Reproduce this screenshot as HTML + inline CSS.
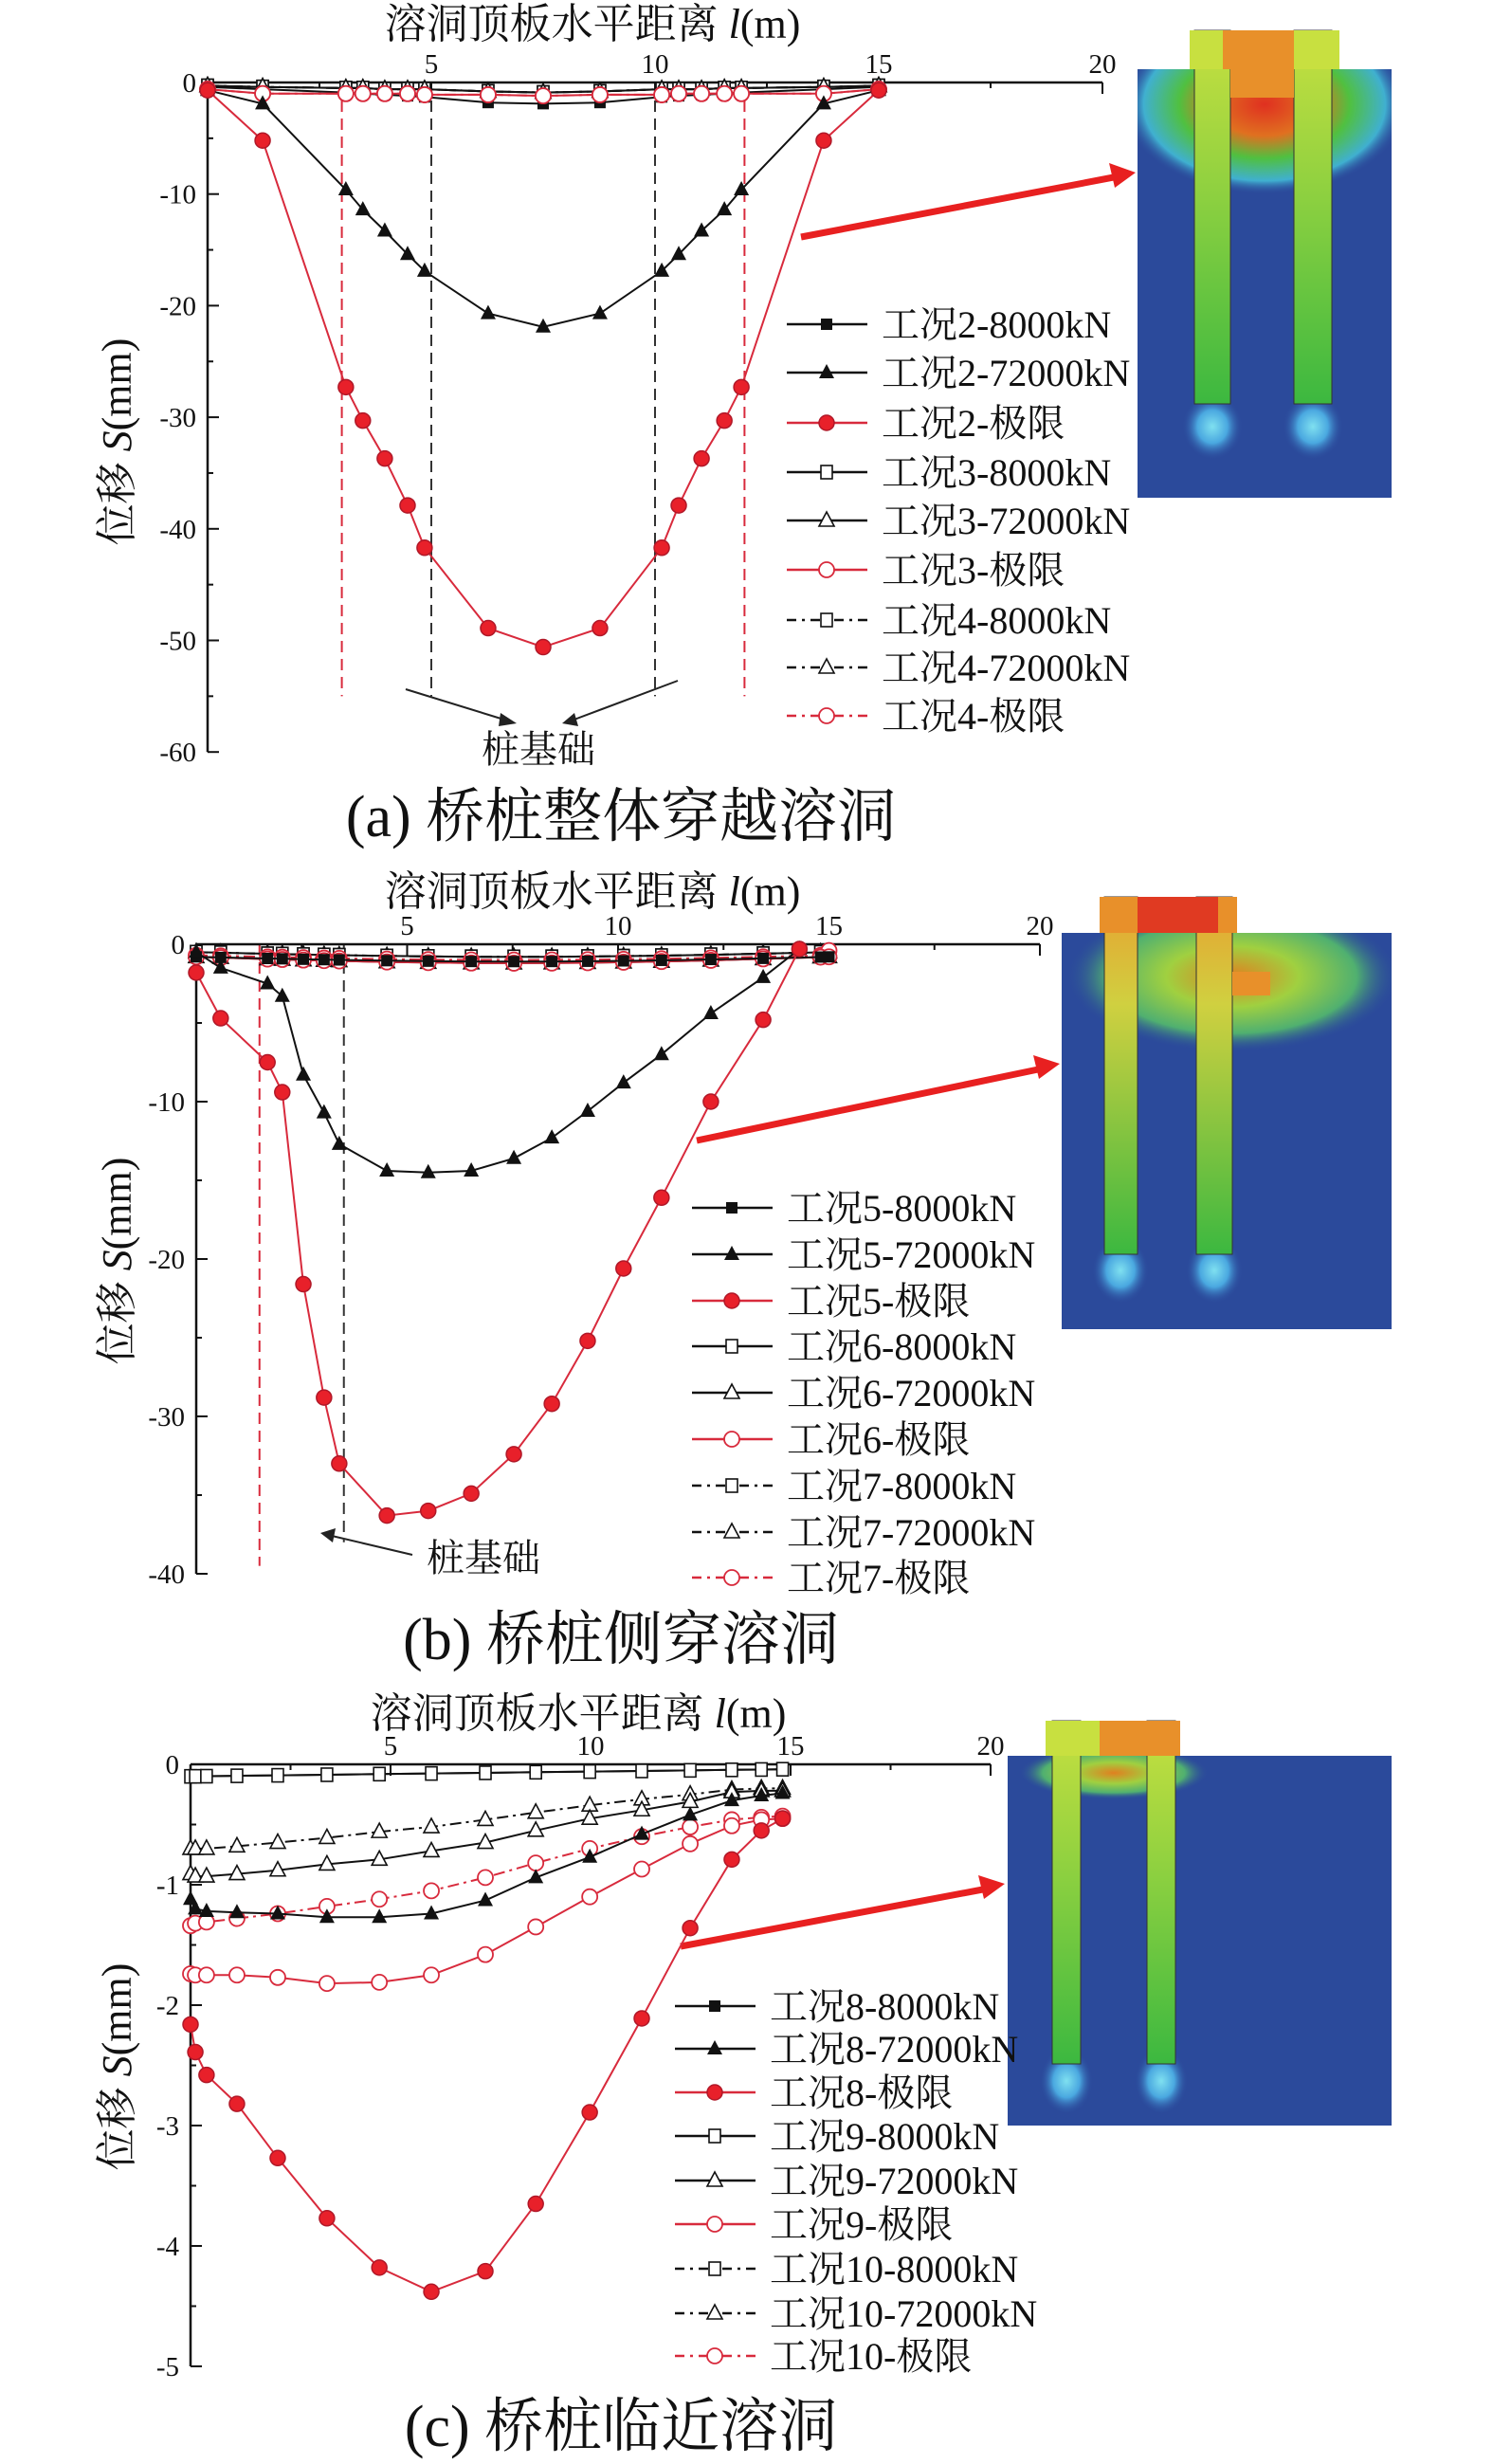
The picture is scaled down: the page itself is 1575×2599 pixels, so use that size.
<!DOCTYPE html>
<html><head><meta charset="utf-8">
<style>
html,body{margin:0;padding:0;background:#fff;}
svg{display:block;}
text{font-family:"Liberation Serif","Noto Serif CJK SC",serif;fill:#111;}
</style></head>
<body>
<svg id="s" width="1575" height="2599" viewBox="0 0 1575 2599" xmlns="http://www.w3.org/2000/svg">
<defs>
<radialGradient id="halo"><stop offset="0" stop-color="#7fe0f0"/><stop offset="0.5" stop-color="#4aa8e0"/><stop offset="1" stop-color="#2b4a9b" stop-opacity="0"/></radialGradient>
<radialGradient id="topg"><stop offset="0" stop-color="#e03020"/><stop offset="0.35" stop-color="#e07020"/><stop offset="0.6" stop-color="#50c040"/><stop offset="0.85" stop-color="#40b0d0"/><stop offset="1" stop-color="#2b4a9b" stop-opacity="0"/></radialGradient>
<radialGradient id="topg2"><stop offset="0" stop-color="#e08020"/><stop offset="0.4" stop-color="#a0d040"/><stop offset="0.75" stop-color="#50b070"/><stop offset="1" stop-color="#2b4a9b" stop-opacity="0"/></radialGradient>
<linearGradient id="pile" x1="0" y1="0" x2="0" y2="1"><stop offset="0" stop-color="#c8e040"/><stop offset="0.45" stop-color="#8cd040"/><stop offset="1" stop-color="#3cb840"/></linearGradient>
<linearGradient id="pileo" x1="0" y1="0" x2="0" y2="1"><stop offset="0" stop-color="#e8a030"/><stop offset="0.3" stop-color="#d0d040"/><stop offset="1" stop-color="#3cb840"/></linearGradient>
<clipPath id="ca"><rect x="1200" y="73" width="268" height="452"/></clipPath>
<clipPath id="cb"><rect x="1120" y="984" width="348" height="418"/></clipPath>
<clipPath id="cc"><rect x="1063" y="1852" width="405" height="390"/></clipPath>
</defs>

<!-- ===== Panel (a) heat image ===== -->
<rect x="1200" y="73" width="268" height="452" fill="#2b4a9b"/>
<g clip-path="url(#ca)">
<ellipse cx="1334" cy="110" rx="150" ry="95" fill="url(#topg)"/>
<ellipse cx="1279" cy="450" rx="32" ry="35" fill="url(#halo)"/>
<ellipse cx="1385" cy="450" rx="32" ry="35" fill="url(#halo)"/>
</g>
<rect x="1260" y="32" width="38" height="394" fill="url(#pile)" stroke="#333" stroke-width="1"/>
<rect x="1365" y="32" width="40" height="394" fill="url(#pile)" stroke="#333" stroke-width="1"/>
<rect x="1255" y="32" width="158" height="41" fill="#c8e040"/>
<rect x="1290" y="32" width="75" height="41" fill="#e8902a"/>
<rect x="1298" y="73" width="67" height="30" fill="#e8902a"/>

<!-- ===== Panel (b) heat image ===== -->
<rect x="1120" y="984" width="348" height="418" fill="#2b4a9b"/>
<g clip-path="url(#cb)">
<ellipse cx="1300" cy="1030" rx="175" ry="80" fill="url(#topg2)"/>
<ellipse cx="1182" cy="1340" rx="30" ry="35" fill="url(#halo)"/>
<ellipse cx="1281" cy="1340" rx="30" ry="35" fill="url(#halo)"/>
</g>
<rect x="1165" y="946" width="35" height="377" fill="url(#pileo)" stroke="#333" stroke-width="1"/>
<rect x="1262" y="946" width="38" height="377" fill="url(#pileo)" stroke="#333" stroke-width="1"/>
<rect x="1160" y="946" width="145" height="38" fill="#e8902a"/>
<rect x="1200" y="946" width="85" height="38" fill="#e03a22"/>
<rect x="1300" y="1025" width="40" height="25" fill="#e8902a"/>

<!-- ===== Panel (c) heat image ===== -->
<rect x="1063" y="1852" width="405" height="390" fill="#2b4a9b"/>
<g clip-path="url(#cc)">
<ellipse cx="1175" cy="1870" rx="100" ry="28" fill="url(#topg2)"/>
<ellipse cx="1125" cy="2195" rx="28" ry="35" fill="url(#halo)"/>
<ellipse cx="1225" cy="2195" rx="28" ry="35" fill="url(#halo)"/>
</g>
<rect x="1110" y="1815" width="30" height="362" fill="url(#pile)" stroke="#333" stroke-width="1"/>
<rect x="1210" y="1815" width="30" height="362" fill="url(#pile)" stroke="#333" stroke-width="1"/>
<rect x="1103" y="1815" width="142" height="37" fill="#c8e040"/>
<rect x="1160" y="1815" width="85" height="37" fill="#e8902a"/>

<!-- red arrows -->
<g stroke="#e82020" stroke-width="7" fill="#e82020">
<line x1="845" y1="250" x2="1180" y2="186"/>
<polygon points="1198,182 1170,172 1176,198" stroke="none"/>
<line x1="735" y1="1203" x2="1100" y2="1127"/>
<polygon points="1118,1122 1090,1113 1096,1138" stroke="none"/>
<line x1="718" y1="2053" x2="1042" y2="1992"/>
<polygon points="1060,1987 1032,1978 1038,2003" stroke="none"/>
</g>

<!-- titles and static text -->
<text x="625" y="40" font-size="44" text-anchor="middle">溶洞顶板水平距离 <tspan font-style="italic">l</tspan>(m)</text>
<text x="625" y="955" font-size="44" text-anchor="middle">溶洞顶板水平距离 <tspan font-style="italic">l</tspan>(m)</text>
<text x="610" y="1822" font-size="44" text-anchor="middle">溶洞顶板水平距离 <tspan font-style="italic">l</tspan>(m)</text>

<text transform="translate(138,466) rotate(-90)" font-size="44" text-anchor="middle">位移 <tspan font-style="italic">S</tspan>(mm)</text>
<text transform="translate(138,1330) rotate(-90)" font-size="44" text-anchor="middle">位移 <tspan font-style="italic">S</tspan>(mm)</text>
<text transform="translate(138,2180) rotate(-90)" font-size="44" text-anchor="middle">位移 <tspan font-style="italic">S</tspan>(mm)</text>

<text x="655" y="882" font-size="62" text-anchor="middle">(a) 桥桩整体穿越溶洞</text>
<text x="655" y="1750" font-size="62" text-anchor="middle">(b) 桥桩侧穿溶洞</text>
<text x="655" y="2580" font-size="62" text-anchor="middle">(c) 桥桩临近溶洞</text>

<text x="568" y="804" font-size="40" text-anchor="middle">桩基础</text>
<text x="510" y="1657" font-size="40" text-anchor="middle">桩基础</text>

<g stroke="#222" stroke-width="2" fill="#222">
<line x1="428" y1="727" x2="535" y2="760"/><polygon points="545,763 528,752 526,766" stroke="none"/>
<line x1="715" y1="718" x2="603" y2="760"/><polygon points="593,763 606,752 610,766" stroke="none"/>
<line x1="435" y1="1640" x2="350" y2="1620"/><polygon points="338,1617 354,1612 351,1627" stroke="none"/>
</g>

<g id="dyn"></g>
</svg>
<script>
(function(){
var NS="http://www.w3.org/2000/svg",g=document.getElementById('dyn');
function el(t,a,txt){var e=document.createElementNS(NS,t);for(var k in a)e.setAttribute(k,a[k]);if(txt!=null)e.textContent=txt;g.appendChild(e);return e;}
var RED="#d82a3c",BLK="#111";
function marker(type,x,y,col){
 if(type=='fc')el('circle',{cx:x,cy:y,r:8,fill:'#e8202a',stroke:'#b01828','stroke-width':1.5});
 else if(type=='oc')el('circle',{cx:x,cy:y,r:8,fill:'#fff',stroke:col,'stroke-width':1.8});
 else if(type=='fs')el('rect',{x:x-6,y:y-6,width:12,height:12,fill:BLK});
 else if(type=='os')el('rect',{x:x-6,y:y-7,width:12,height:14,fill:'#fff',stroke:BLK,'stroke-width':1.6});
 else if(type=='ft')el('polygon',{points:(x)+','+(y-9)+' '+(x-8)+','+(y+6)+' '+(x+8)+','+(y+6),fill:BLK});
 else if(type=='ot')el('polygon',{points:(x)+','+(y-9)+' '+(x-8)+','+(y+6)+' '+(x+8)+','+(y+6),fill:'#fff',stroke:BLK,'stroke-width':1.6});
}
function series(P,xs,ys,type,col,dash){
 var pts=xs.map(function(x,i){return [P.X(x),P.Y(ys[i])];});
 var a={points:pts.map(function(p){return p[0].toFixed(1)+','+p[1].toFixed(1)}).join(' '),fill:'none',stroke:col,'stroke-width':2};
 if(dash)a['stroke-dasharray']='12,5,3,5';
 el('polyline',a);
 pts.forEach(function(p){marker(type,p[0],p[1],col);});
}
function axes(P,ymin,ystep,nlab){
 el('line',{x1:P.X(0),y1:P.Y(0),x2:P.X(20),y2:P.Y(0),stroke:BLK,'stroke-width':2.5});
 el('line',{x1:P.X(0),y1:P.Y(0),x2:P.X(0),y2:P.Y(ymin),stroke:BLK,'stroke-width':2.5});
 for(var m=5;m<=20;m+=5){el('line',{x1:P.X(m),y1:P.Y(0),x2:P.X(m),y2:P.Y(0)+12,stroke:BLK,'stroke-width':2});
  el('text',{x:P.X(m),y:P.Y(0)-10,'font-size':29,'text-anchor':'middle'},String(m));}
 for(var m=2.5;m<20;m+=5)el('line',{x1:P.X(m),y1:P.Y(0),x2:P.X(m),y2:P.Y(0)+6,stroke:BLK,'stroke-width':2});
 for(var i=0;i<=nlab;i++){var v=-i*ystep,y=P.Y(v);
  el('line',{x1:P.X(0),y1:y,x2:P.X(0)+12,y2:y,stroke:BLK,'stroke-width':2});
  el('text',{x:P.X(0)-12,y:y+10,'font-size':29,'text-anchor':'end'},i==0?'0':'-'+(i*ystep));
  if(i<nlab){var y2=P.Y(v-ystep/2);el('line',{x1:P.X(0),y1:y2,x2:P.X(0)+6,y2:y2,stroke:BLK,'stroke-width':2});}
 }
}
function legend(x0,ys,items){
 items.forEach(function(it,i){var y=ys[i];
  var a={x1:x0,y1:y,x2:x0+85,y2:y,stroke:it.c,'stroke-width':2.5};
  if(it.d)a['stroke-dasharray']='10,6,3,6';
  el('line',a);marker(it.m,x0+42,y,it.c);
  el('text',{x:x0+100,y:y+14,'font-size':40},it.t);});
}
function vdash(P,x,y0,y1,col){el('line',{x1:P.X(x),y1:P.Y(y0),x2:P.X(x),y2:P.Y(y1),stroke:col,'stroke-width':2,'stroke-dasharray':'12,7'});}

/* ---------- Panel a ---------- */
var A={X:function(m){return 219+m*47.2},Y:function(v){return 87-v*11.77}};
vdash(A,3,0,-55,RED);vdash(A,12,0,-55,RED);vdash(A,5,0,-55,'#333');vdash(A,10,0,-55,'#333');
axes(A,-60,10,6);
var xa=[0,1.23,3.09,3.47,3.96,4.47,4.85,6.27,7.5,8.77,10.15,10.53,11.04,11.55,11.93,13.77,15];
var half=function(a){return a.concat(a.slice(0,a.length-1).reverse());};
var ta=half([-0.7,-1.9,-9.6,-11.4,-13.3,-15.4,-16.9,-20.7,-21.9]);
var ra=half([-0.7,-5.2,-27.3,-30.3,-33.7,-37.9,-41.7,-48.9,-50.6]);
var sa=half([-0.4,-0.6,-0.9,-1.0,-1.1,-1.2,-1.3,-1.8,-1.9]);
var s2=half([-0.3,-0.4,-0.5,-0.5,-0.6,-0.6,-0.6,-0.8,-0.9]);
var c3=half([-0.6,-1,-1,-1,-1,-1,-1.1,-1.1,-1.2]);
series(A,xa,s2,'os',BLK,true);series(A,xa,s2,'ot',BLK,true);
series(A,xa,sa,'fs',BLK);series(A,xa,s2,'os',BLK);series(A,xa,s2,'ot',BLK);
series(A,xa,c3,'oc',RED,true);series(A,xa,c3,'oc',RED);
series(A,xa,ta,'ft',BLK);series(A,xa,ra,'fc',RED);
legend(830,[342,393,446,498,549,601,654,704,755],[
{t:'工况2-8000kN',m:'fs',c:BLK},{t:'工况2-72000kN',m:'ft',c:BLK},{t:'工况2-极限',m:'fc',c:RED},
{t:'工况3-8000kN',m:'os',c:BLK},{t:'工况3-72000kN',m:'ot',c:BLK},{t:'工况3-极限',m:'oc',c:RED},
{t:'工况4-8000kN',m:'os',c:BLK,d:1},{t:'工况4-72000kN',m:'ot',c:BLK,d:1},{t:'工况4-极限',m:'oc',c:RED,d:1}]);

/* ---------- Panel b ---------- */
var B={X:function(m){return 207+m*44.5},Y:function(v){return 996-v*16.6}};
vdash(B,1.5,0,-39.5,RED);vdash(B,3.5,0,-38,'#333');
axes(B,-40,10,4);
var xb=[0,0.58,1.69,2.04,2.54,3.03,3.39,4.52,5.5,6.52,7.53,8.43,9.28,10.13,11.03,12.2,13.44,14.3];
var tb=[-0.5,-1.5,-2.5,-3.3,-8.3,-10.7,-12.7,-14.4,-14.5,-14.4,-13.6,-12.3,-10.6,-8.8,-7.0,-4.4,-2.1,-0.3];
var rb=[-1.8,-4.7,-7.5,-9.4,-21.6,-28.8,-33.0,-36.3,-36.0,-34.9,-32.4,-29.2,-25.2,-20.6,-16.1,-10.0,-4.8,-0.3];
var xb2=xb.slice(0,17).concat([14.8,15]);
var sb=xb2.map(function(x){return -0.5-0.3*Math.sin(Math.PI*x/15)});
var cb=xb2.map(function(x){return -0.8-0.4*Math.sin(Math.PI*x/15)});
var cb2=xb2.map(function(x,i){return i==xb2.length-1?-0.4:-0.7-0.3*Math.sin(Math.PI*x/15)});
series(B,xb2,sb,'os',BLK,true);series(B,xb2,sb,'ot',BLK,true);series(B,xb2,sb,'os',BLK);
series(B,xb2,cb,'ot',BLK);series(B,xb2,cb2,'oc',RED,true);series(B,xb2,cb,'oc',RED);
series(B,xb2,sb.map(function(v){return v-0.3}),'fs',BLK);
series(B,xb,tb,'ft',BLK);series(B,xb,rb,'fc',RED);
legend(730,[1274,1323,1372,1420,1469,1518,1567,1616,1664],[
{t:'工况5-8000kN',m:'fs',c:BLK},{t:'工况5-72000kN',m:'ft',c:BLK},{t:'工况5-极限',m:'fc',c:RED},
{t:'工况6-8000kN',m:'os',c:BLK},{t:'工况6-72000kN',m:'ot',c:BLK},{t:'工况6-极限',m:'oc',c:RED},
{t:'工况7-8000kN',m:'os',c:BLK,d:1},{t:'工况7-72000kN',m:'ot',c:BLK,d:1},{t:'工况7-极限',m:'oc',c:RED,d:1}]);

/* ---------- Panel c ---------- */
var C={X:function(m){return 201+m*42.2},Y:function(v){return 1861-v*127}};
axes(C,-5,1,5);
var xc=[0,0.12,0.4,1.16,2.18,3.41,4.72,6.02,7.37,8.63,9.98,11.28,12.49,13.53,14.27,14.8];
var r8=[-2.16,-2.39,-2.58,-2.82,-3.27,-3.77,-4.18,-4.38,-4.21,-3.65,-2.89,-2.11,-1.36,-0.79,-0.55,-0.45];
var t8=[-1.12,-1.2,-1.22,-1.23,-1.24,-1.27,-1.27,-1.24,-1.13,-0.94,-0.77,-0.58,-0.42,-0.30,-0.26,-0.24];
var t9=[-0.91,-0.93,-0.93,-0.91,-0.88,-0.83,-0.79,-0.72,-0.65,-0.55,-0.45,-0.38,-0.31,-0.23,-0.22,-0.22];
var t10=[-0.7,-0.7,-0.7,-0.68,-0.65,-0.61,-0.56,-0.52,-0.46,-0.40,-0.34,-0.29,-0.25,-0.21,-0.20,-0.20];
var c9=[-1.74,-1.75,-1.75,-1.75,-1.77,-1.82,-1.81,-1.75,-1.58,-1.35,-1.1,-0.87,-0.66,-0.51,-0.46,-0.45];
var c10=[-1.34,-1.32,-1.31,-1.28,-1.24,-1.18,-1.12,-1.05,-0.94,-0.82,-0.70,-0.60,-0.52,-0.46,-0.44,-0.43];
var sq=xc.map(function(x){return -0.1+0.004*x});
series(C,xc,sq,'fs',BLK);series(C,xc,sq,'os',BLK);
series(C,xc,t10,'ot',BLK,true);series(C,xc,t9,'ot',BLK);
series(C,xc,c10,'oc',RED,true);series(C,xc,c9,'oc',RED);
series(C,xc,t8,'ft',BLK);series(C,xc,r8,'fc',RED);
legend(712,[2116,2161,2207,2253,2300,2346,2393,2440,2485],[
{t:'工况8-8000kN',m:'fs',c:BLK},{t:'工况8-72000kN',m:'ft',c:BLK},{t:'工况8-极限',m:'fc',c:RED},
{t:'工况9-8000kN',m:'os',c:BLK},{t:'工况9-72000kN',m:'ot',c:BLK},{t:'工况9-极限',m:'oc',c:RED},
{t:'工况10-8000kN',m:'os',c:BLK,d:1},{t:'工况10-72000kN',m:'ot',c:BLK,d:1},{t:'工况10-极限',m:'oc',c:RED,d:1}]);
})();
</script>
</body></html>
